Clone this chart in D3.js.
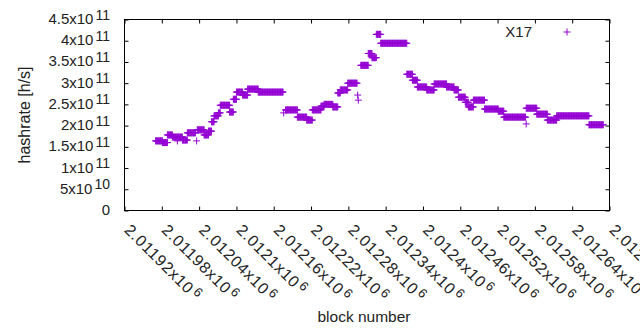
<!DOCTYPE html>
<html>
<head>
<meta charset="utf-8">
<title>hashrate</title>
<script src="https://cdnjs.cloudflare.com/ajax/libs/d3/7.8.5/d3.min.js"></script>
<style>
  body { margin: 0; background: #fff; }
  svg { font-family: "Liberation Sans", Arial, sans-serif; }
</style>
</head>
<body>
<div id="chart"></div>
<script>
// runs of constant hashrate: first block, last block, hashrate (x10^11 h/s)
var runStart = [2011970, 2011981, 2011989, 2011997, 2012005, 2012013, 2012021, 2012036, 2012037, 2012048,
                2012055, 2012060, 2012064, 2012071, 2012074, 2012089, 2012095, 2012100, 2012110, 2012118,
                2012135, 2012176, 2012179, 2012198, 2012213, 2012222, 2012236, 2012241, 2012255, 2012263,
                2012267, 2012279, 2012295, 2012296, 2012300, 2012312, 2012318, 2012325, 2012332, 2012374,
                2012383, 2012391, 2012406, 2012418, 2012438, 2012450, 2012457, 2012468, 2012473, 2012481,
                2012499, 2012521, 2012530, 2012566, 2012566, 2012583, 2012600, 2012615, 2012667];
var runEnd   = [2011981, 2011989, 2011997, 2012013, 2012005, 2012021, 2012034, 2012036, 2012048, 2012055,
                2012060, 2012064, 2012071, 2012074, 2012089, 2012095, 2012100, 2012110, 2012118, 2012135,
                2012175, 2012176, 2012198, 2012213, 2012222, 2012236, 2012241, 2012255, 2012263, 2012267,
                2012279, 2012294, 2012295, 2012296, 2012312, 2012318, 2012325, 2012332, 2012374, 2012383,
                2012391, 2012406, 2012418, 2012438, 2012450, 2012457, 2012468, 2012473, 2012481, 2012499,
                2012521, 2012530, 2012565, 2012566, 2012583, 2012600, 2012615, 2012667, 2012690];
var runRate  = [1.64, 1.60, 1.78, 1.73, 1.64, 1.66, 1.83, 1.64, 1.90, 1.78,
                1.87, 2.09, 2.23, 2.30, 2.48, 2.32, 2.62, 2.79, 2.72, 2.86,
                2.79, 2.30, 2.37, 2.20, 2.13, 2.37, 2.46, 2.50, 2.44, 2.77,
                2.84, 3.00, 2.72, 2.60, 3.42, 3.70, 3.60, 4.15, 3.94, 3.21,
                3.07, 2.91, 2.84, 2.98, 2.91, 2.84, 2.67, 2.55, 2.44, 2.60,
                2.39, 2.34, 2.20, 2.04, 2.41, 2.27, 2.13, 2.23, 2.02];

var xTicks = [2011920, 2011980, 2012040, 2012100, 2012160, 2012220, 2012280,
              2012340, 2012400, 2012460, 2012520, 2012580, 2012640, 2012700];
var yTicks = [0, 0.5e11, 1e11, 1.5e11, 2e11, 2.5e11, 3e11, 3.5e11, 4e11, 4.5e11];
var seriesName = "X17";
var color = "#9400d3";

var margin = {top: 19.5, right: 30.5, bottom: 119.5, left: 124.5},
    width = 640 - margin.left - margin.right,
    height = 330 - margin.top - margin.bottom;

var root = d3.select("#chart").append("svg")
    .attr("width", 640)
    .attr("height", 330);
var svg = root.append("g")
    .attr("transform", "translate(" + margin.left + "," + margin.top + ")");

var x = d3.scaleLinear().domain([xTicks[0], xTicks[xTicks.length - 1]]).range([0, width]);
var y = d3.scaleLinear().domain([0, 4.5e11]).range([height, 0]);

// one point per block
var points = [];
runStart.forEach(function(s, i) {
    for (var b = s; b <= runEnd[i]; b++) points.push({block: b, rate: runRate[i] * 1e11});
});

// ticks on all four sides, pointing inward
function ticks(axis, tx, ty) {
    svg.append("g")
        .attr("transform", "translate(" + tx + "," + ty + ")")
        .call(axis.tickSizeOuter(0).tickFormat(""))
        .call(function(g) { g.select(".domain").remove(); g.selectAll("line").attr("stroke", "#000"); });
}
ticks(d3.axisBottom(x).tickValues(xTicks).tickSize(-4), 0, height);
ticks(d3.axisTop(x).tickValues(xTicks).tickSize(-4), 0, 0);
ticks(d3.axisLeft(y).tickValues(yTicks).tickSize(-4), 0, 0);
ticks(d3.axisRight(y).tickValues(yTicks).tickSize(-4), width, 0);

svg.append("rect")
    .attr("width", width).attr("height", height)
    .attr("fill", "none").attr("stroke", "#000").attr("stroke-width", 1);

// y tick labels like 2.5x10^11
yTicks.forEach(function(v) {
    var t = svg.append("text")
        .attr("x", -14.5)
        .attr("y", y(v) + 4.5)
        .attr("text-anchor", "end")
        .style("font-size", "15px")
        .attr("fill", "#222");
    if (v === 0) { t.text("0"); return; }
    var e = Math.floor(Math.log10(v) + 1e-9);
    var m = +(v / Math.pow(10, e)).toPrecision(3);
    t.append("tspan").text(m + "x10");
    t.append("tspan").attr("dx", 2).attr("dy", -4.5).style("font-size", "14px").text(e);
});

// x tick labels, rotated
xTicks.forEach(function(v) {
    var t = svg.append("text")
        .attr("transform", "translate(" + (x(v) - 1) + "," + (height + 20.5) + ") rotate(45)")
        .style("font-size", "16px")
        .style("letter-spacing", "0.8px")
        .attr("fill", "#222");
    t.append("tspan").text(+(v / 1e6).toPrecision(6) + "x10");
    t.append("tspan").attr("dx", 2).attr("dy", -5).style("font-size", "13px").text("6");
});

// points drawn as gnuplot "+" marks
var plus = function(px, py) {
    return "M" + (px - 3.5) + "," + py + "h7M" + px + "," + (py - 3.5) + "v7";
};
svg.append("path")
    .attr("d", points.map(function(d) { return plus(x(d.block), y(d.rate)); }).join(""))
    .attr("fill", "none")
    .attr("stroke", color)
    .attr("stroke-width", 1);

// legend
svg.append("text")
    .attr("x", 532 - margin.left)
    .attr("y", 37 - margin.top)
    .attr("text-anchor", "end")
    .style("font-size", "15px")
    .attr("fill", "#222")
    .text(seriesName);
svg.append("path")
    .attr("d", plus(567 - margin.left, 32 - margin.top))
    .attr("stroke", color)
    .attr("stroke-width", 1);

// axis titles
svg.append("text")
    .attr("x", 364 - margin.left)
    .attr("y", 322 - margin.top)
    .attr("text-anchor", "middle")
    .style("font-size", "15.5px")
    .attr("fill", "#222")
    .text("block number");
svg.append("text")
    .attr("transform", "translate(" + (29.5 - margin.left) + "," + (height / 2) + ") rotate(-90)")
    .attr("text-anchor", "middle")
    .style("font-size", "16px")
    .attr("fill", "#222")
    .text("hashrate [h/s]");
</script>
</body>
</html>
